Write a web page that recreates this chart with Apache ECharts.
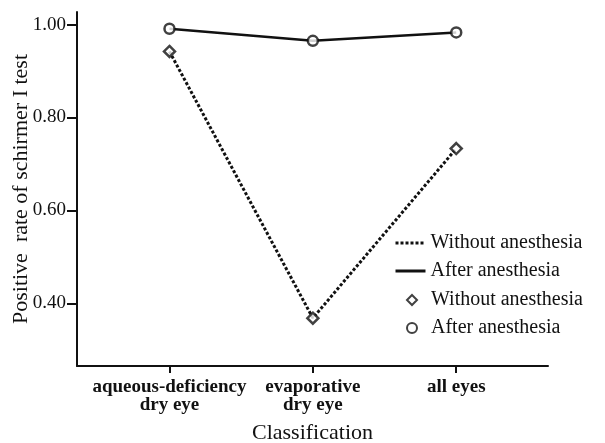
<!DOCTYPE html>
<html>
<head>
<meta charset="utf-8">
<script src="https://cdn.jsdelivr.net/npm/echarts@6/dist/echarts.min.js"></script>
<style>
  html, body { margin: 0; padding: 0; background: #fff; }
  #main { width: 605px; height: 443px; }
</style>
</head>
<body>
<div id="main"></div>
<script>
// chart data
const categories = ['aqueous-deficiency\ndry eye', 'evaporative\ndry eye', 'all eyes']
const withoutAnesthesia = [0.942, 0.368, 0.733]
const afterAnesthesia = [0.991, 0.965, 0.983]
const yTicks = [0.4, 0.6, 0.8, 1.0]
const xTicks = [0, 1, 2]

const serif = '"Liberation Serif", "DejaVu Serif", serif'
const ink = '#111'

function pairs(values) {
  return values.map((v, i) => [i, v])
}

let chart = echarts.init(document.getElementById('main'), null, { renderer: 'canvas' })

let option = {
  backgroundColor: '#fff',
  animation: false,
  grid: { left: 77, right: 57, top: 12, bottom: 77, outerBoundsMode: 'none' },
  xAxis: {
    type: 'value',
    min: -0.645,
    max: 2.64,
    splitLine: { show: false },
    axisLine: { show: true, onZero: false, lineStyle: { color: ink, width: 2 } },
    axisTick: { show: true, customValues: xTicks, length: 7, lineStyle: { color: ink, width: 2 } },
    axisLabel: {
      customValues: xTicks,
      formatter: v => categories[Math.round(v)] || '',
      fontFamily: serif,
      fontSize: 19,
      fontWeight: 'bold',
      lineHeight: 18,
      color: ink,
      margin: 12
    },
    name: 'Classification',
    nameLocation: 'middle',
    nameMoveOverlap: false,
    nameGap: 56,
    nameTextStyle: { fontFamily: serif, fontSize: 22, color: ink }
  },
  yAxis: {
    type: 'value',
    min: 0.265,
    max: 1.027,
    splitLine: { show: false },
    axisLine: { show: true, onZero: false, lineStyle: { color: ink, width: 2 } },
    axisTick: { show: true, customValues: yTicks, length: 10, lineStyle: { color: ink, width: 2 } },
    axisLabel: {
      customValues: yTicks,
      formatter: v => v.toFixed(2),
      fontFamily: serif,
      fontSize: 19,
      color: ink,
      margin: 11
    },
    name: 'Positive  rate of schirmer I test',
    nameLocation: 'middle',
    nameMoveOverlap: false,
    nameGap: 45,
    nameTextStyle: { fontFamily: serif, fontSize: 22, color: ink }
  },
  legend: [
    {
      orient: 'vertical',
      left: 389,
      top: 228,
      itemWidth: 30,
      itemHeight: 6,
      itemGap: 8,
      itemStyle: { opacity: 0 },
      lineStyle: { width: 3 },
      textStyle: { fontFamily: serif, fontSize: 20, color: ink, lineHeight: 20 },
      data: ['Without anesthesia', 'After anesthesia']
    },
    {
      orient: 'vertical',
      left: 401,
      top: 285,
      itemWidth: 10,
      itemHeight: 10,
      itemGap: 8,
      textStyle: { fontFamily: serif, fontSize: 20, color: ink, lineHeight: 20, padding: [0, 0, 0, 9] },
      data: ['Without anesthesia ', 'After anesthesia ']
    }
  ],
  series: [
    {
      name: 'Without anesthesia',
      type: 'line',
      symbol: 'none',
      data: pairs(withoutAnesthesia),
      lineStyle: { color: ink, width: 3, type: [3, 2] },
      itemStyle: { color: ink }
    },
    {
      name: 'After anesthesia',
      type: 'line',
      symbol: 'none',
      data: pairs(afterAnesthesia),
      lineStyle: { color: ink, width: 2.5 },
      itemStyle: { color: ink }
    },
    {
      name: 'Without anesthesia ',
      type: 'scatter',
      symbol: 'diamond',
      symbolSize: 11,
      data: pairs(withoutAnesthesia),
      itemStyle: { color: '#fff', borderColor: ink, borderWidth: 2.5 },
      z: 3
    },
    {
      name: 'After anesthesia ',
      type: 'scatter',
      symbol: 'circle',
      symbolSize: 10,
      data: pairs(afterAnesthesia),
      itemStyle: { color: '#fff', borderColor: ink, borderWidth: 2.5 },
      z: 3
    }
  ]
}

chart.setOption(option)
</script>
</body>
</html>
